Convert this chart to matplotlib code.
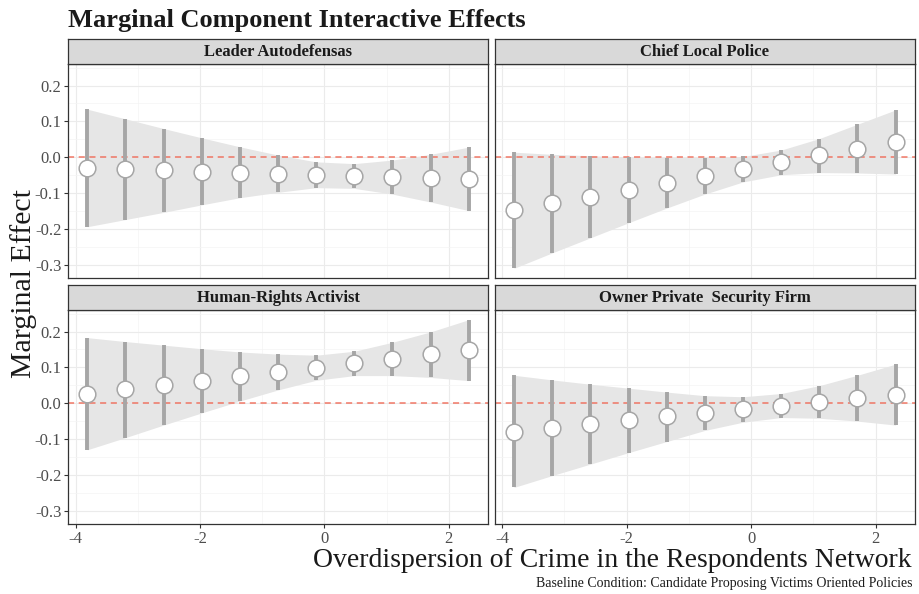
#!/usr/bin/env python3
"""Faceted marginal-effect plot for the four candidate profiles."""

from __future__ import annotations

import matplotlib

matplotlib.use("Agg")
import matplotlib.pyplot as plt
from matplotlib.ticker import MultipleLocator


# Moderator values (overdispersion of crime in the respondent's network)
overdispersion = [-3.81, -3.197, -2.584, -1.971, -1.358, -0.745, -0.132, 0.481, 1.094, 1.707, 2.32]

panel_titles = [
    "Leader Autodefensas",
    "Chief Local Police",
    "Human-Rights Activist",
    "Owner Private  Security Firm",
]

leader_est = [-0.031, -0.034, -0.037, -0.040, -0.043, -0.046, -0.049, -0.052, -0.055, -0.058, -0.061]
leader_hi = [0.134, 0.107, 0.080, 0.054, 0.029, 0.006, -0.013, -0.018, -0.008, 0.008, 0.028]
leader_lo = [-0.194, -0.174, -0.154, -0.133, -0.113, -0.098, -0.085, -0.087, -0.103, -0.125, -0.149]

police_est = [-0.148, -0.129, -0.110, -0.091, -0.071, -0.052, -0.033, -0.014, 0.005, 0.024, 0.043]
police_hi = [0.014, 0.008, 0.004, 0.001, -0.001, -0.001, 0.002, 0.020, 0.052, 0.092, 0.132]
police_lo = [-0.310, -0.267, -0.225, -0.183, -0.142, -0.103, -0.069, -0.049, -0.043, -0.044, -0.047]

activist_est = [0.026, 0.039, 0.051, 0.063, 0.075, 0.087, 0.099, 0.111, 0.124, 0.136, 0.149]
activist_hi = [0.183, 0.172, 0.162, 0.152, 0.143, 0.137, 0.134, 0.145, 0.170, 0.199, 0.233]
activist_lo = [-0.130, -0.096, -0.061, -0.027, 0.006, 0.037, 0.064, 0.077, 0.077, 0.072, 0.063]

security_est = [-0.079, -0.068, -0.058, -0.048, -0.037, -0.027, -0.017, -0.007, 0.004, 0.014, 0.024]
security_hi = [0.078, 0.065, 0.053, 0.042, 0.031, 0.021, 0.018, 0.027, 0.049, 0.078, 0.109]
security_lo = [-0.235, -0.202, -0.170, -0.138, -0.107, -0.076, -0.053, -0.040, -0.042, -0.050, -0.061]

y_ticks = [-0.3, -0.2, -0.1, 0.0, 0.1, 0.2]
x_ticks = [-4, -2, 0, 2]

W, H = 919, 594
SERIF = ["Liberation Serif", "DejaVu Serif"]


def px_rect(left, top, right, bottom):
    return [left / W, 1 - bottom / H, (right - left) / W, (bottom - top) / H]


def draw_panel(ax, est, lo, hi, show_x, show_y):
    x = overdispersion
    ax.fill_between(x, lo, hi, color="#e6e6e6", linewidth=0, zorder=1)
    ax.axhline(0, color="#f0624d", linewidth=1.1, linestyle=(0, (4, 3)), alpha=0.85, zorder=2)
    ax.vlines(x, lo, hi, color="#a6a6a6", linewidth=2.8, zorder=3)
    ax.plot(x, est, "o", markersize=12, markerfacecolor="white",
            markeredgecolor="#a6a6a6", markeredgewidth=1.1, zorder=4)

    span_x = max(x) - min(x)
    ax.set_xlim(min(x) - 0.05 * span_x, max(x) + 0.05 * span_x)
    ymin, ymax = -0.310, 0.233
    span_y = ymax - ymin
    ax.set_ylim(ymin - 0.05 * span_y, ymax + 0.05 * span_y)

    ax.set_xticks(x_ticks)
    ax.xaxis.set_minor_locator(MultipleLocator(1))
    ax.set_yticks(y_ticks)
    ax.yaxis.set_minor_locator(MultipleLocator(0.05))
    ax.grid(True, which="major", color="#ebebeb", linewidth=0.8, zorder=0)
    ax.grid(True, which="minor", color="#f4f4f4", linewidth=0.5, zorder=0)
    ax.set_axisbelow(True)

    ax.tick_params(which="minor", length=0)
    ax.tick_params(which="major", length=3, width=0.8, color="#333333",
                   labelcolor="#4d4d4d", labelsize=12, pad=2)
    ax.set_xticklabels([f"{t:g}" for t in x_ticks], fontfamily=SERIF)
    ax.set_yticklabels([f"{t:.1f}" for t in y_ticks], fontfamily=SERIF)
    if not show_x:
        ax.tick_params(axis="x", length=0, labelbottom=False)
    if not show_y:
        ax.tick_params(axis="y", length=0, labelleft=False)
    for spine in ax.spines.values():
        spine.set_color("#333333")
        spine.set_linewidth(0.9)


def draw_strip(fig, rect, label):
    sax = fig.add_axes(rect)
    sax.set_facecolor("#d9d9d9")
    sax.set_xticks([])
    sax.set_yticks([])
    for spine in sax.spines.values():
        spine.set_color("#333333")
        spine.set_linewidth(0.9)
    sax.text(0.5, 0.5, label, ha="center", va="center", fontsize=12,
             fontweight="bold", color="#1a1a1a", family=SERIF)


def main() -> None:
    fig = plt.figure(figsize=(W / 100, H / 100), dpi=100, facecolor="white")

    series = [
        (leader_est, leader_lo, leader_hi),
        (police_est, police_lo, police_hi),
        (activist_est, activist_lo, activist_hi),
        (security_est, security_lo, security_hi),
    ]
    cols = [(68.3, 487.7), (495.0, 914.7)]
    rows = [(39.0, 64.0, 278.0), (285.0, 310.0, 524.0)]

    for i, (est, lo, hi) in enumerate(series):
        r, c = divmod(i, 2)
        left, right = cols[c]
        strip_top, top, bottom = rows[r]
        ax = fig.add_axes(px_rect(left, top, right, bottom))
        draw_panel(ax, est, lo, hi, show_x=(r == 1), show_y=(c == 0))
        draw_strip(fig, px_rect(left, strip_top, right, top), panel_titles[i])

    fig.text(68 / W, 1 - 27 / H, "Marginal Component Interactive Effects",
             ha="left", va="baseline", fontsize=19, fontweight="bold",
             color="#1a1a1a", family=SERIF)
    fig.text(24 / W, 1 - 283 / H, "Marginal Effect", rotation=90,
             ha="center", va="center", fontsize=21.5, color="#1a1a1a", family=SERIF)
    fig.text(912 / W, 1 - 567 / H, "Overdispersion of Crime in the Respondents Network",
             ha="right", va="baseline", fontsize=20, color="#1a1a1a", family=SERIF)
    fig.text(912 / W, 1 - 587 / H,
             "Baseline Condition: Candidate Proposing Victims Oriented Policies",
             ha="right", va="baseline", fontsize=10, color="#1a1a1a", family=SERIF)

    fig.savefig("out.png", dpi=100, facecolor="white")
    plt.close(fig)


if __name__ == "__main__":
    main()
